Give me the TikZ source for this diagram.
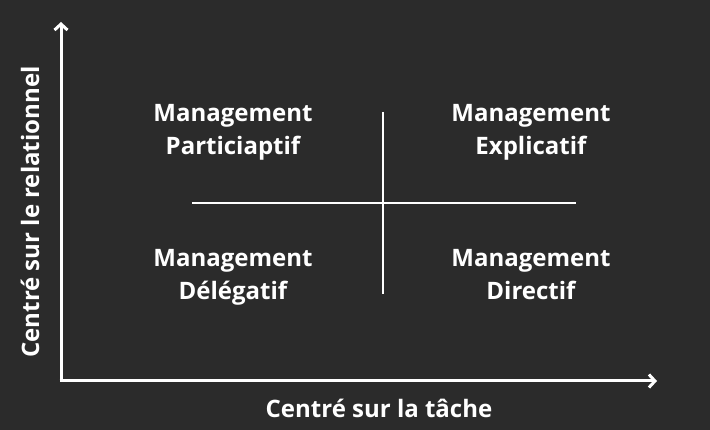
\documentclass[tikz,border=0pt]{standalone}
\usepackage{fontspec}
\setmainfont{Open Sans}[BoldFont={* Bold}]
\usetikzlibrary{arrows.meta, positioning}
\definecolor{darkbg}{HTML}{2B2B2B}

\tikzset{
  axis/.style={line width=3pt, white, -{Straight Barb[length=6pt, width=13pt, line width=3pt]}},
  quadlabel/.style={white, anchor=base, inner sep=0pt, font=\bfseries\fontsize{24}{34}\selectfont},
  axislabel/.style={white, font=\bfseries\fontsize{24}{30}\selectfont}
}

\begin{document}
\begin{tikzpicture}[x=1pt, y=-1pt]
% Background
\fill[darkbg] (0,0) rectangle (710,430);
\useasboundingbox (0,0) rectangle (710,430);

% Axes
\coordinate (origin) at (61,381);
\coordinate (ytop) at (61,22);
\coordinate (xend) at (657,381);
\draw[axis] (origin) -- (ytop);
\draw[axis] ([xshift=-1.5pt]origin) -- (xend);

% Cross
\coordinate (vtop) at (383,112);
\coordinate (vbot) at (383,294);
\coordinate (hleft) at (192,203);
\coordinate (hright) at (576,203);
\draw[white, line width=1.6pt] (vtop) -- (vbot);
\draw[white, line width=1.6pt] (hleft) -- (hright);

% Quadrants
\node[quadlabel] (particip1) at (233,122) {Management};
\node[quadlabel] (particip2) at (233,155) {Particiaptif};
\node[quadlabel] (explic1) at (531,122) {Management};
\node[quadlabel] (explic2) at (531,155) {Explicatif};
\node[quadlabel] (delegat1) at (233,267) {Management};
\node[quadlabel] (delegat2) at (233,300) {Délégatif};
\node[quadlabel] (direct1) at (531,267) {Management};
\node[quadlabel] (direct2) at (531,300) {Directif};

% Axis labels
\node[axislabel] (xlabel) at (379,408) {Centré sur la tâche};
\node[axislabel, rotate=90] (ylabel) at (30,212) {Centré sur le relationnel};
\end{tikzpicture}
\end{document}
